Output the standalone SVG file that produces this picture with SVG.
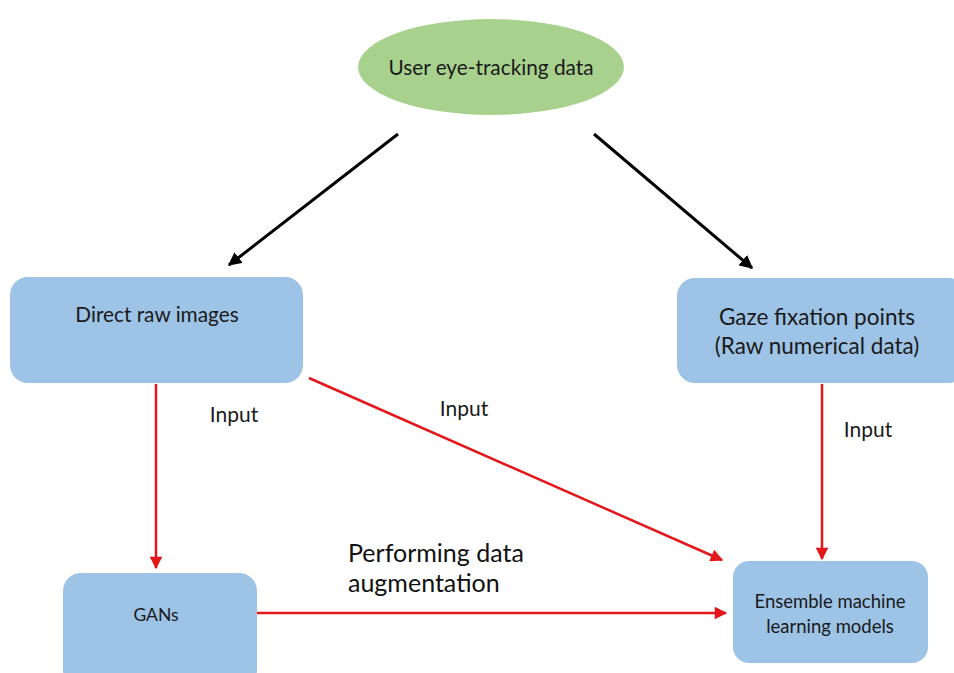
<svg xmlns="http://www.w3.org/2000/svg" width="954" height="673" viewBox="0 0 954 673">
  <style>
    .box { fill: #9dc3e6; }
    .lbl { font-family: Lato, "Open Sans", "Liberation Sans", sans-serif; fill: #1a1a1a; text-anchor: middle; }
    .lbl-l { font-family: Lato, "Open Sans", "Liberation Sans", sans-serif; fill: #111; text-anchor: start; }
    .edge-k { stroke: #000; stroke-width: 3; fill: none; }
    .edge-r { stroke: #e3161b; stroke-width: 2.5; fill: none; }
  </style>
  <defs>
    <marker id="ah-k" viewBox="0 0 10 10" refX="9" refY="5" markerWidth="4.5" markerHeight="4.5" orient="auto" markerUnits="strokeWidth">
      <path d="M0,0 L10,5 L0,10 z" fill="#000"/>
    </marker>
    <marker id="ah-r" viewBox="0 0 10 10" refX="9" refY="5" markerWidth="5.5" markerHeight="5" orient="auto" markerUnits="strokeWidth">
      <path d="M0,0 L10,5 L0,10 z" fill="#e3161b"/>
    </marker>
  </defs>
  <rect width="954" height="673" fill="#fff"/>

  <g id="node-eye">
    <ellipse cx="491" cy="67" rx="133" ry="48" fill="#a9d18e"/>
    <text class="lbl" x="491" y="75" font-size="20.8">User eye-tracking data</text>
  </g>

  <g id="node-raw">
    <rect class="box" x="10" y="277" width="293" height="106" rx="18"/>
    <text class="lbl" x="157" y="322" font-size="20.8">Direct raw images</text>
  </g>

  <g id="node-gaze">
    <rect class="box" x="677" y="278" width="290" height="105" rx="18"/>
    <text class="lbl" x="817" y="325" font-size="22.5">Gaze fixation points</text>
    <text class="lbl" x="817" y="354" font-size="22.5">(Raw numerical data)</text>
  </g>

  <g id="node-gans">
    <rect class="box" x="63" y="573" width="194" height="115" rx="18"/>
    <text class="lbl" x="156" y="621" font-size="17.5">GANs</text>
  </g>

  <g id="node-ensemble">
    <rect class="box" x="733" y="561" width="195" height="102" rx="16"/>
    <text class="lbl" x="830" y="608" font-size="18.5">Ensemble machine</text>
    <text class="lbl" x="830" y="633" font-size="18.5">learning models</text>
  </g>

  <g id="connectors">
    <line class="edge-k" x1="398" y1="134" x2="229" y2="265" marker-end="url(#ah-k)"/>
    <line class="edge-k" x1="594" y1="134" x2="752" y2="268" marker-end="url(#ah-k)"/>
    <line class="edge-r" x1="156" y1="384" x2="156" y2="568" marker-end="url(#ah-r)"/>
    <line class="edge-r" x1="309" y1="378" x2="722" y2="560" marker-end="url(#ah-r)"/>
    <line class="edge-r" x1="822" y1="384" x2="822" y2="559" marker-end="url(#ah-r)"/>
    <line class="edge-r" x1="257" y1="613" x2="726" y2="613" marker-end="url(#ah-r)"/>
    <text class="lbl" x="234" y="422" font-size="21">Input</text>
    <text class="lbl" x="464" y="416" font-size="21">Input</text>
    <text class="lbl" x="868" y="437" font-size="21">Input</text>
    <text class="lbl-l" x="348" y="562" font-size="25">Performing data</text>
    <text class="lbl-l" x="348" y="592" font-size="25">augmentation</text>
  </g>
</svg>
